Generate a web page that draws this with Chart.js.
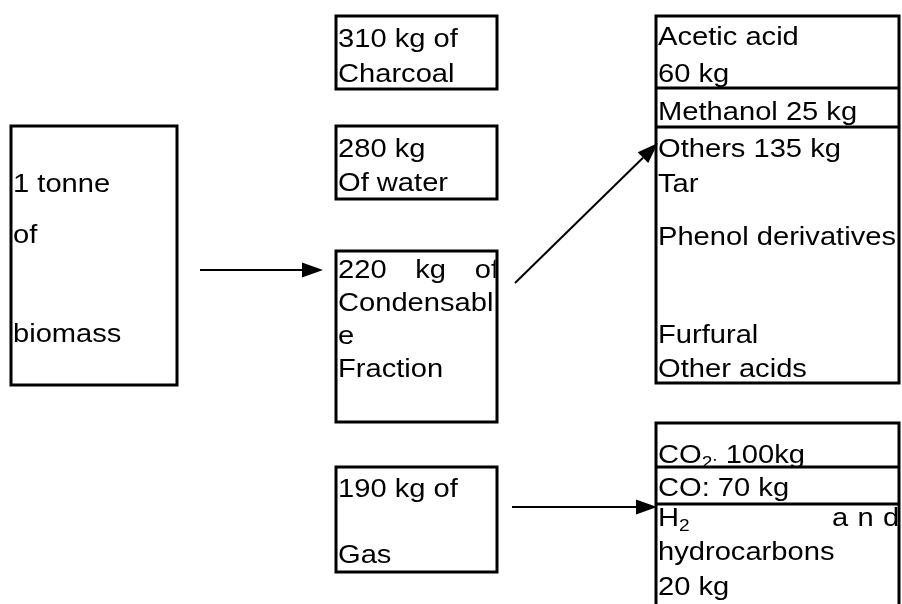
<!DOCTYPE html>
<html>
<head>
<meta charset="utf-8">
<script src="https://cdn.jsdelivr.net/npm/chart.js@4/dist/chart.umd.min.js"></script>
<style>
  html, body { margin: 0; padding: 0; background: #ffffff; }
  #wrap { width: 902px; height: 604px; position: relative; }
</style>
</head>
<body>
<div id="wrap"><canvas id="c"></canvas></div>
<script>
// ---- Data ----
const feedLabel = 'biomass';
const feedTonnes = 1;
const productNames = ['Charcoal', 'water', 'Condensable Fraction', 'Gas'];
const productKg = [310, 280, 220, 190];
const condensableNames = ['Acetic acid', 'Methanol', 'Others'];
const condensableKg = [60, 25, 135];
const otherComponents = ['Tar', 'Phenol derivatives', 'Furfural', 'Other acids'];
const gasNames = ['CO', 'CO', 'hydrocarbons'];
const gasKg = [100, 70, 20];

// ---- Layout (diagram units; mapped through the chart scales) ----
const layout = {
  feed:        { x0: 11,  y0: 126, x1: 177, y1: 385 },
  charcoal:    { x0: 336, y0: 16,  x1: 497, y1: 89 },
  water:       { x0: 336, y0: 126, x1: 497, y1: 199 },
  condensable: { x0: 336, y0: 251, x1: 497, y1: 422 },
  gas:         { x0: 336, y0: 467, x1: 497, y1: 572 },
  liquids:     { x0: 656, y0: 16,  x1: 899, y1: 383, dividers: [88, 127] },
  gases:       { x0: 656, y0: 423, x1: 899, y1: 640, dividers: [467, 504] }
};
const arrows = [
  { from: [200, 270], to: [323, 270] },
  { from: [515, 283], to: [658, 143] },
  { from: [512, 507], to: [657, 507] }
];

const FONT_SIZE = 26;
const FONT_STRETCH = 1.12;
const FONT_FAMILY = '"Liberation Sans", Arial, sans-serif';

// Text lines per box, built from the data arrays
const texts = {
  feed: [
    { parts: [{ t: feedTonnes + ' tonne' }], y: 192 },
    { parts: [{ t: 'of' }], y: 243 },
    { parts: [{ t: feedLabel }], y: 342 }
  ],
  charcoal: [
    { parts: [{ t: productKg[0] + ' kg of' }], y: 47 },
    { parts: [{ t: productNames[0] }], y: 82 }
  ],
  water: [
    { parts: [{ t: productKg[1] + ' kg' }], y: 157 },
    { parts: [{ t: 'Of ' + productNames[1] }], y: 191 }
  ],
  condensable: [
    { parts: [{ t: productKg[2] + ' kg of' }], y: 278, justifyTo: 499 },
    { parts: [{ t: productNames[2].split(' ')[0].slice(0, -1) }], y: 311 },
    { parts: [{ t: productNames[2].split(' ')[0].slice(-1) }], y: 344 },
    { parts: [{ t: productNames[2].split(' ')[1] }], y: 377 }
  ],
  gas: [
    { parts: [{ t: productKg[3] + ' kg of' }], y: 497 },
    { parts: [{ t: productNames[3] }], y: 563 }
  ],
  liquids: [
    { parts: [{ t: condensableNames[0] }], y: 45 },
    { parts: [{ t: condensableKg[0] + ' kg' }], y: 82 },
    { parts: [{ t: condensableNames[1] + ' ' + condensableKg[1] + ' kg' }], y: 120 },
    { parts: [{ t: condensableNames[2] + ' ' + condensableKg[2] + ' kg' }], y: 157 },
    { parts: [{ t: otherComponents[0] }], y: 192 },
    { parts: [{ t: otherComponents[1] }], y: 245 },
    { parts: [{ t: otherComponents[2] }], y: 343 },
    { parts: [{ t: otherComponents[3] }], y: 377 }
  ],
  gases: [
    { parts: [{ t: gasNames[0] }, { t: '2:', sub: true }, { t: ' ' + gasKg[0] + 'kg' }], y: 463 },
    { parts: [{ t: gasNames[1] + ': ' + gasKg[1] + ' kg' }], y: 496 },
    { parts: [{ t: 'H' }, { t: '2', sub: true }, { t: 'and', at: 832, spacing: 25.5 }], y: 526 },
    { parts: [{ t: gasNames[2] }], y: 560 },
    { parts: [{ t: gasKg[2] + ' kg' }], y: 595 }
  ]
};

const diagramPlugin = {
  id: 'flowDiagram',
  afterDraw(chart) {
    const ctx = chart.ctx;
    const sx = chart.scales.x, sy = chart.scales.y;
    const px = v => sx.getPixelForValue(v);
    const py = v => sy.getPixelForValue(v);

    ctx.save();
    ctx.fillStyle = '#ffffff';
    ctx.fillRect(0, 0, chart.width, chart.height);

    const drawText = (str, x, y, size, spacing) => {
      ctx.save();
      ctx.font = size + 'px ' + FONT_FAMILY;
      ctx.translate(x, y);
      ctx.scale(FONT_STRETCH, 1);
      if (spacing) {
        let cx = 0;
        for (const ch of str) { ctx.fillText(ch, cx, 0); cx += spacing / FONT_STRETCH; }
      } else {
        ctx.fillText(str, 0, 0);
      }
      ctx.restore();
    };
    const widthOf = (str, size) => {
      ctx.save();
      ctx.font = size + 'px ' + FONT_FAMILY;
      const w = ctx.measureText(str).width * FONT_STRETCH;
      ctx.restore();
      return w;
    };

    // Boxes and their text
    for (const key of Object.keys(layout)) {
      const b = layout[key];
      const X0 = px(b.x0), X1 = px(b.x1), Y0 = py(b.y0), Y1 = py(b.y1);
      ctx.save();
      ctx.beginPath();
      ctx.rect(X0 + 1.5, Y0 + 1.5, X1 - X0 - 3, Y1 - Y0 - 3);
      ctx.clip();
      ctx.fillStyle = '#000000';
      ctx.textBaseline = 'alphabetic';
      for (const line of (texts[key] || [])) {
        const Y = py(line.y);
        let cx = X0 + 2;
        if (line.justifyTo) {
          const words = line.parts[0].t.split(' ');
          const total = words.reduce((s, w) => s + widthOf(w, FONT_SIZE), 0);
          const gap = (px(line.justifyTo) - cx - total) / (words.length - 1);
          for (const w of words) { drawText(w, cx, Y, FONT_SIZE); cx += widthOf(w, FONT_SIZE) + gap; }
          continue;
        }
        for (const p of line.parts) {
          if (p.at) cx = px(p.at);
          if (p.sub) {
            drawText(p.t, cx, Y + 5, 17);
            cx += widthOf(p.t, 17);
          } else {
            drawText(p.t, cx, Y, FONT_SIZE, p.spacing);
            cx += widthOf(p.t, FONT_SIZE);
          }
        }
      }
      ctx.restore();

      ctx.strokeStyle = '#000000';
      ctx.lineWidth = 3;
      ctx.strokeRect(X0, Y0, X1 - X0, Y1 - Y0);
      for (const d of (b.dividers || [])) {
        ctx.beginPath();
        ctx.moveTo(X0, py(d));
        ctx.lineTo(X1, py(d));
        ctx.stroke();
      }
    }

    // Arrows
    for (const a of arrows) {
      const x0 = px(a.from[0]), y0 = py(a.from[1]);
      const x1 = px(a.to[0]), y1 = py(a.to[1]);
      const ang = Math.atan2(y1 - y0, x1 - x0);
      const L = 21, H = 7.5;
      const bx = x1 - L * Math.cos(ang), by = y1 - L * Math.sin(ang);
      ctx.strokeStyle = '#000000';
      ctx.lineWidth = 2;
      ctx.beginPath();
      ctx.moveTo(x0, y0);
      ctx.lineTo(bx, by);
      ctx.stroke();
      ctx.fillStyle = '#000000';
      ctx.beginPath();
      ctx.moveTo(x1, y1);
      ctx.lineTo(bx + H * Math.sin(ang), by - H * Math.cos(ang));
      ctx.lineTo(bx - H * Math.sin(ang), by + H * Math.cos(ang));
      ctx.closePath();
      ctx.fill();
    }
    ctx.restore();
  }
};

new Chart(document.getElementById('c'), {
  type: 'scatter',
  data: { datasets: [{ data: [], pointRadius: 0 }] },
  options: {
    responsive: true,
    maintainAspectRatio: false,
    animation: false,
    layout: { padding: 0 },
    plugins: { legend: { display: false }, tooltip: { enabled: false }, title: { display: false } },
    scales: {
      x: { type: 'linear', min: 0, max: 902, display: false },
      y: { type: 'linear', min: 0, max: 604, reverse: true, display: false }
    }
  },
  plugins: [diagramPlugin]
});
</script>
</body>
</html>
